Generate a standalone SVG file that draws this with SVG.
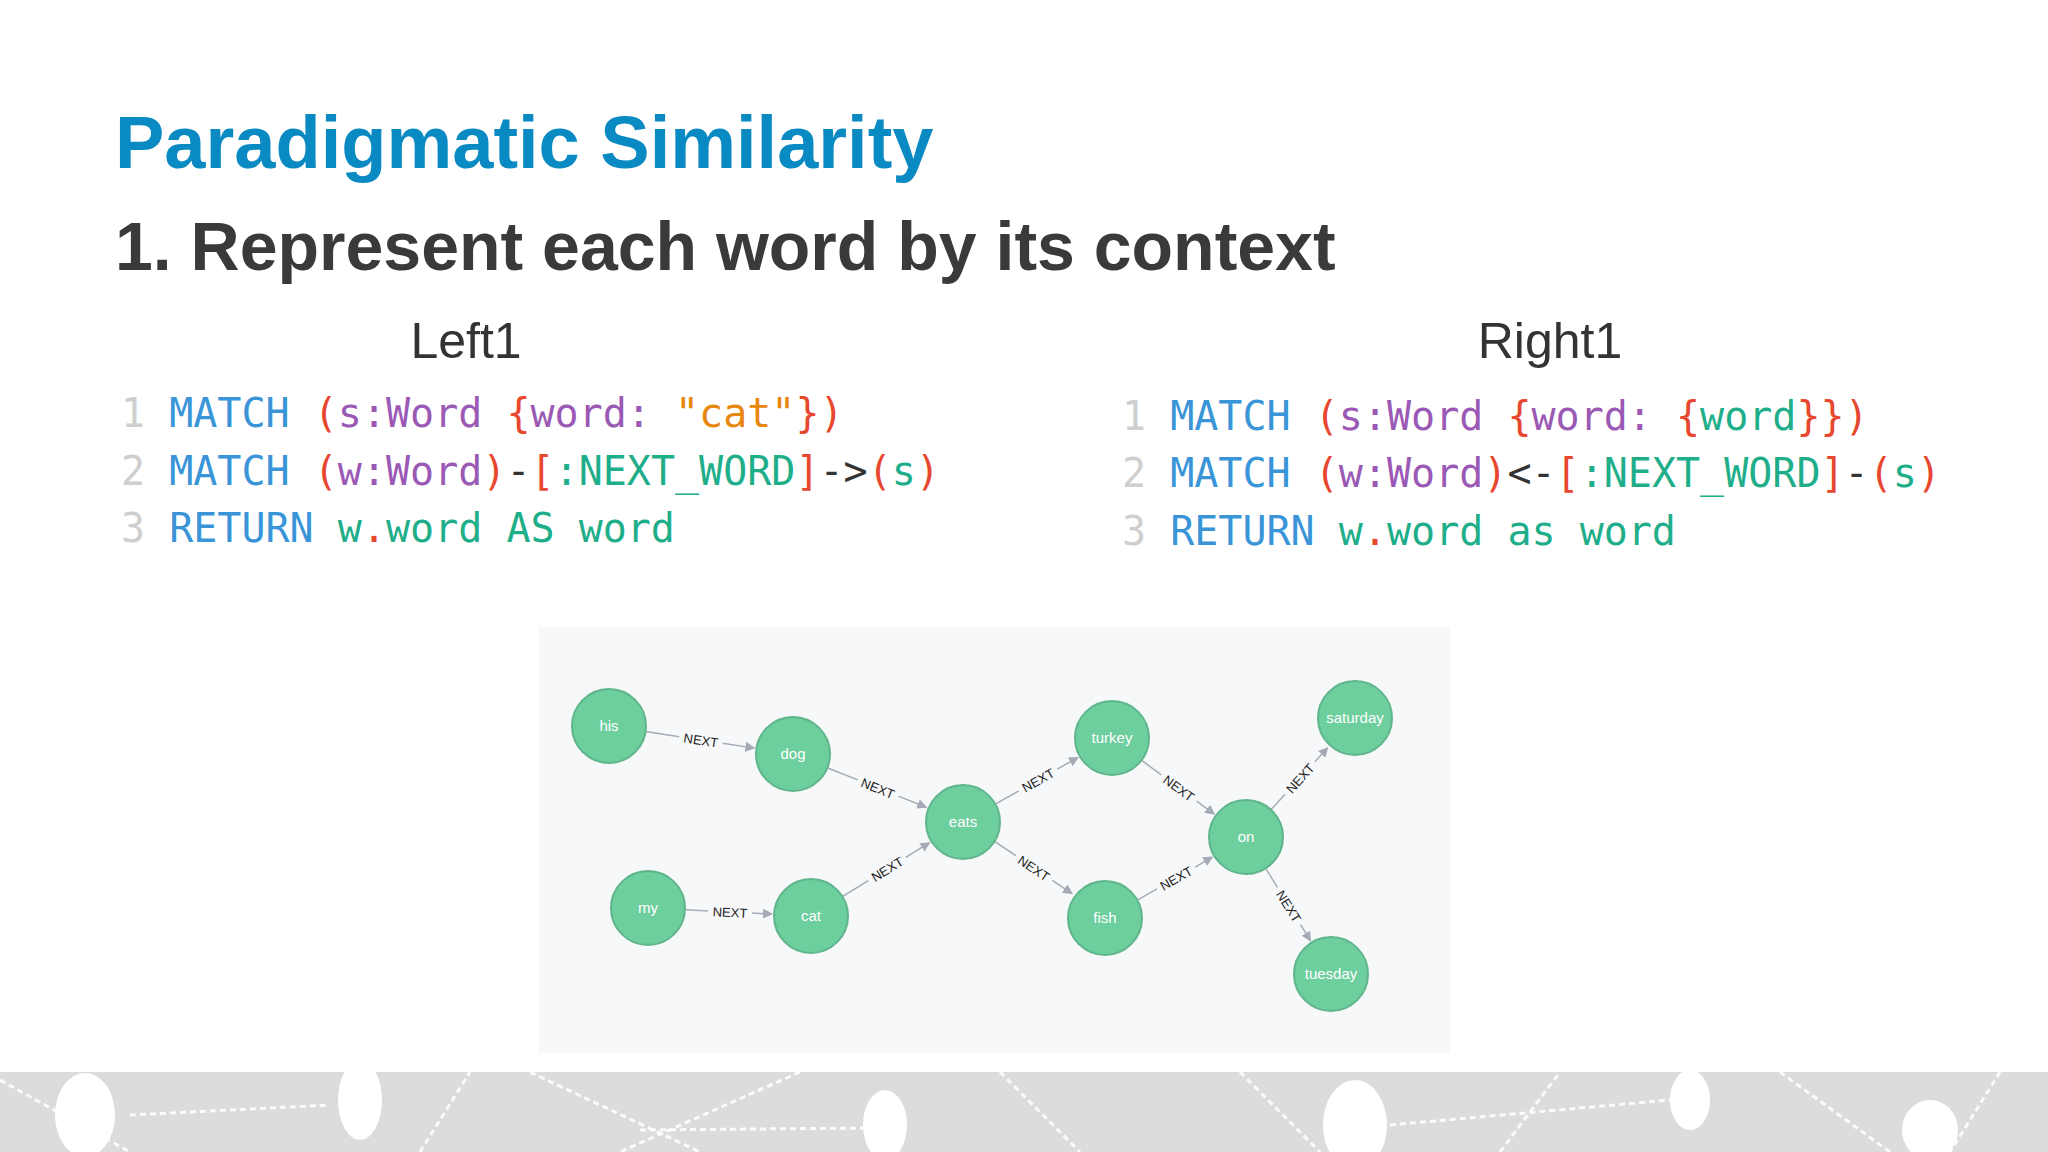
<svg xmlns="http://www.w3.org/2000/svg" width="2048" height="1152" viewBox="0 0 2048 1152">
<defs>
<style>
.t{font-family:"Liberation Sans",Arial,sans-serif}
.code{font-family:"DejaVu Sans Mono","Liberation Mono",monospace;font-size:40px}
.n{fill:#cfcfcf}.b{fill:#3a95d8}.r{fill:#e8472f}.p{fill:#9b59b6}.o{fill:#e8870e}.g{fill:#1fae8a}.k{fill:#333}
.node circle{fill:#6dce9e;stroke:#60b58b;stroke-width:2}
.node text{font-family:"Liberation Sans",Arial,sans-serif;font-size:15px;fill:#fff;text-anchor:middle}
.e line{stroke:#a5abb6;stroke-width:1.5}
.e text{font-family:"Liberation Sans",Arial,sans-serif;font-size:13px;fill:#222;text-anchor:middle}
.bg line{stroke:#fff;stroke-width:3;stroke-dasharray:6 4;opacity:.9}
</style>
<marker id="ah" viewBox="0 0 10 10" refX="9" refY="5" markerWidth="10" markerHeight="10" markerUnits="userSpaceOnUse" orient="auto"><path d="M0,0L10,5L0,10z" fill="#a5abb6"/></marker>
</defs>
<rect width="2048" height="1152" fill="#fff"/>
<text class="t" x="115" y="168" font-size="74" font-weight="bold" fill="#0a8ac2">Paradigmatic Similarity</text>
<text class="t" x="115" y="270" font-size="68" font-weight="bold" fill="#3a3a3a">1. Represent each word by its context</text>
<text class="t" x="466" y="358" font-size="50" fill="#333" text-anchor="middle">Left1</text>
<text class="t" x="1550" y="358" font-size="50" fill="#333" text-anchor="middle">Right1</text>
<g class="code" xml:space="preserve">
<text x="121" y="427"><tspan class="n">1</tspan> <tspan class="b">MATCH</tspan> <tspan class="r">(</tspan><tspan class="p">s:Word</tspan> <tspan class="r">{</tspan><tspan class="p">word:</tspan> <tspan class="o">"cat"</tspan><tspan class="r">})</tspan></text>
<text x="121" y="485"><tspan class="n">2</tspan> <tspan class="b">MATCH</tspan> <tspan class="r">(</tspan><tspan class="p">w:Word</tspan><tspan class="r">)</tspan><tspan class="k">-</tspan><tspan class="r">[</tspan><tspan class="g">:NEXT_WORD</tspan><tspan class="r">]</tspan><tspan class="k">-&gt;</tspan><tspan class="r">(</tspan><tspan class="g">s</tspan><tspan class="r">)</tspan></text>
<text x="121" y="542"><tspan class="n">3</tspan> <tspan class="b">RETURN</tspan> <tspan class="g">w</tspan><tspan class="r">.</tspan><tspan class="g">word AS word</tspan></text>
<text x="1122" y="430"><tspan class="n">1</tspan> <tspan class="b">MATCH</tspan> <tspan class="r">(</tspan><tspan class="p">s:Word</tspan> <tspan class="r">{</tspan><tspan class="p">word:</tspan> <tspan class="r">{</tspan><tspan class="g">word</tspan><tspan class="r">}})</tspan></text>
<text x="1122" y="487"><tspan class="n">2</tspan> <tspan class="b">MATCH</tspan> <tspan class="r">(</tspan><tspan class="p">w:Word</tspan><tspan class="r">)</tspan><tspan class="k">&lt;-</tspan><tspan class="r">[</tspan><tspan class="g">:NEXT_WORD</tspan><tspan class="r">]</tspan><tspan class="k">-</tspan><tspan class="r">(</tspan><tspan class="g">s</tspan><tspan class="r">)</tspan></text>
<text x="1122" y="545"><tspan class="n">3</tspan> <tspan class="b">RETURN</tspan> <tspan class="g">w</tspan><tspan class="r">.</tspan><tspan class="g">word as word</tspan></text>
</g>
<rect x="539" y="627" width="911" height="426" fill="#f7f8fa"/>
<g id="connectors" class="e">
<g transform="translate(701,740) rotate(8.65)"><line x1="-56" y1="0" x2="-22" y2="0"/><line x1="22" y1="0" x2="54" y2="0" marker-end="url(#ah)"/><text y="5">NEXT</text></g>
<g transform="translate(878,788) rotate(21.8)"><line x1="-54" y1="0" x2="-22" y2="0"/><line x1="22" y1="0" x2="52" y2="0" marker-end="url(#ah)"/><text y="5">NEXT</text></g>
<g transform="translate(730,912) rotate(2.8)"><line x1="-44" y1="0" x2="-22" y2="0"/><line x1="22" y1="0" x2="42" y2="0" marker-end="url(#ah)"/><text y="5">NEXT</text></g>
<g transform="translate(887,869) rotate(-31.7)"><line x1="-52" y1="0" x2="-22" y2="0"/><line x1="22" y1="0" x2="50" y2="0" marker-end="url(#ah)"/><text y="5">NEXT</text></g>
<g transform="translate(1038,780) rotate(-29.4)"><line x1="-48" y1="0" x2="-22" y2="0"/><line x1="22" y1="0" x2="46" y2="0" marker-end="url(#ah)"/><text y="5">NEXT</text></g>
<g transform="translate(1034,868) rotate(34)"><line x1="-48" y1="0" x2="-22" y2="0"/><line x1="22" y1="0" x2="46" y2="0" marker-end="url(#ah)"/><text y="5">NEXT</text></g>
<g transform="translate(1179,788) rotate(36.5)"><line x1="-46" y1="0" x2="-22" y2="0"/><line x1="22" y1="0" x2="44" y2="0" marker-end="url(#ah)"/><text y="5">NEXT</text></g>
<g transform="translate(1176,878) rotate(-29.9)"><line x1="-44" y1="0" x2="-22" y2="0"/><line x1="22" y1="0" x2="42" y2="0" marker-end="url(#ah)"/><text y="5">NEXT</text></g>
<g transform="translate(1300,778) rotate(-47.5)"><line x1="-43" y1="0" x2="-22" y2="0"/><line x1="22" y1="0" x2="41" y2="0" marker-end="url(#ah)"/><text y="5">NEXT</text></g>
<g transform="translate(1289,906) rotate(58.2)"><line x1="-43" y1="0" x2="-22" y2="0"/><line x1="22" y1="0" x2="41" y2="0" marker-end="url(#ah)"/><text y="5">NEXT</text></g>
</g>
<g id="his" class="node"><circle cx="609" cy="726" r="37"/><text x="609" y="731">his</text></g>
<g id="dog" class="node"><circle cx="793" cy="754" r="37"/><text x="793" y="759">dog</text></g>
<g id="eats" class="node"><circle cx="963" cy="822" r="37"/><text x="963" y="827">eats</text></g>
<g id="my" class="node"><circle cx="648" cy="908" r="37"/><text x="648" y="913">my</text></g>
<g id="cat" class="node"><circle cx="811" cy="916" r="37"/><text x="811" y="921">cat</text></g>
<g id="turkey" class="node"><circle cx="1112" cy="738" r="37"/><text x="1112" y="743">turkey</text></g>
<g id="fish" class="node"><circle cx="1105" cy="918" r="37"/><text x="1105" y="923">fish</text></g>
<g id="on" class="node"><circle cx="1246" cy="837" r="37"/><text x="1246" y="842">on</text></g>
<g id="saturday" class="node"><circle cx="1355" cy="718" r="37"/><text x="1355" y="723">saturday</text></g>
<g id="tuesday" class="node"><circle cx="1331" cy="974" r="37"/><text x="1331" y="979">tuesday</text></g>
<g class="bg">
<rect x="0" y="1072" width="2048" height="80" fill="#dcdcdc"/>
<ellipse cx="85" cy="1115" rx="30" ry="42" fill="#fff"/>
<ellipse cx="360" cy="1100" rx="22" ry="40" fill="#fff"/>
<ellipse cx="885" cy="1125" rx="22" ry="35" fill="#fff"/>
<ellipse cx="1355" cy="1125" rx="32" ry="45" fill="#fff"/>
<ellipse cx="1690" cy="1100" rx="20" ry="30" fill="#fff"/>
<ellipse cx="1930" cy="1130" rx="28" ry="30" fill="#fff"/>
<line x1="130" y1="1115" x2="330" y2="1105"/><line x1="640" y1="1130" x2="870" y2="1128"/>
<line x1="1390" y1="1125" x2="1670" y2="1100"/><line x1="0" y1="1080" x2="130" y2="1152"/>
<line x1="530" y1="1072" x2="700" y2="1152"/><line x1="800" y1="1072" x2="620" y2="1152"/>
<line x1="1240" y1="1072" x2="1320" y2="1152"/><line x1="1780" y1="1072" x2="1890" y2="1152"/>
<line x1="2000" y1="1072" x2="1950" y2="1152"/><line x1="1000" y1="1072" x2="1080" y2="1152"/>
<line x1="420" y1="1152" x2="470" y2="1072"/><line x1="1500" y1="1152" x2="1560" y2="1072"/>
</g>
</svg>
